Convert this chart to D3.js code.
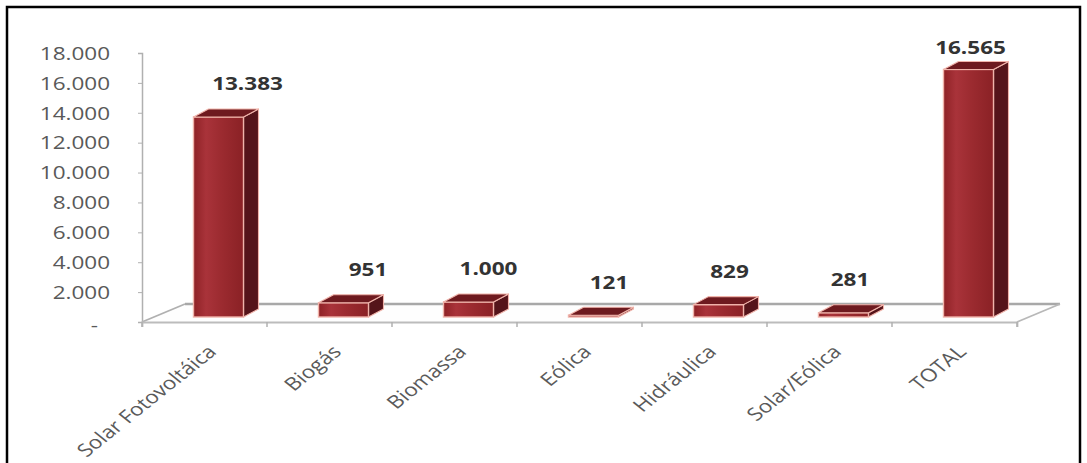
<!DOCTYPE html>
<html>
<head>
<meta charset="utf-8">
<script src="https://cdn.jsdelivr.net/npm/d3@7"></script>
<style>
  html, body { margin: 0; padding: 0; background: #fff; }
  svg { display: block; }
</style>
</head>
<body>
<svg id="chart" width="1087" height="463"></svg>
<script>
// ---- data ----
const categories = ["Solar Fotovoltáica", "Biogás", "Biomassa", "Eólica", "Hidráulica", "Solar/Eólica", "TOTAL"];
const values = [13383, 951, 1000, 121, 829, 281, 16565];
const valueLabels = ["13.383", "951", "1.000", "121", "829", "281", "16.565"];
const yTicks = [0, 2000, 4000, 6000, 8000, 10000, 12000, 14000, 16000, 18000];
const yTickLabels = ["-", "2.000", "4.000", "6.000", "8.000", "10.000", "12.000", "14.000", "16.000", "18.000"];

// ---- layout ----
const svg = d3.select("#chart");
const stretch = 1.25; // the picture is horizontally stretched

// frame
svg.append("rect").attr("x", 7).attr("y", 7).attr("width", 1073).attr("height", 470)
  .attr("fill", "none").attr("stroke", "#000").attr("stroke-width", 2.5);

const x = d3.scaleBand().domain(categories).range([142, 1017]).paddingInner(0).paddingOuter(0);
const y = d3.scaleLinear().domain([0, 18000]).range([322, 53]);

const floorDX = 43, floorDY = -18;   // depth of floor
const barDX = 15, barDY = -8;        // depth of bars
const barW = 50;
const barOffX = floorDX / 2 - barDX / 2;  // bar front placed at mid-depth
const barOffY = floorDY / 2 - barDY / 2;

const defs = svg.append("defs");
const grad = defs.append("linearGradient").attr("id", "front").attr("x1", "0").attr("x2", "1").attr("y1", "0").attr("y2", "0");
[["0%", "#8e2226"], ["25%", "#a9333a"], ["55%", "#9c2b30"], ["100%", "#8a2125"]].forEach(s =>
  grad.append("stop").attr("offset", s[0]).attr("stop-color", s[1]));

// floor
const x0 = x.range()[0], x1 = x.range()[1], y0 = y(0);
const floor = svg.append("g");
floor.append("path")
  .attr("d", `M${x0},${y0} L${x1},${y0} L${x1 + floorDX},${y0 + floorDY} L${x0 + floorDX},${y0 + floorDY} Z`)
  .attr("fill", "#fefefe").attr("stroke", "none");
floor.append("line").attr("x1", x0 + floorDX).attr("y1", y0 + floorDY).attr("x2", x1 + floorDX).attr("y2", y0 + floorDY)
  .attr("stroke", "#a8a8a8").attr("stroke-width", 2.5);
floor.append("line").attr("x1", x0).attr("y1", y0).attr("x2", x0 + floorDX).attr("y2", y0 + floorDY)
  .attr("stroke", "#b0b0b0").attr("stroke-width", 1.8);
floor.append("line").attr("x1", x1).attr("y1", y0).attr("x2", x1 + floorDX).attr("y2", y0 + floorDY)
  .attr("stroke", "#b8b8b8").attr("stroke-width", 1.8);

// y axis
const yAxis = d3.axisLeft(y).tickValues(yTicks).tickSize(4).tickPadding(28)
  .tickFormat((d, i) => yTickLabels[i]);
const gy = svg.append("g").attr("transform", `translate(${x0},0)`).call(yAxis);
gy.select(".domain").attr("stroke", "#b0b0b0").attr("stroke-width", 1.5);
gy.selectAll(".tick line").attr("stroke", "#b0b0b0");
gy.selectAll(".tick text").each(function(d) {
  const t = d3.select(this);
  const tx = d === 0 ? -44 : -32;
  t.attr("x", null).attr("dy", null)
    .attr("transform", `translate(${tx},${d === 0 ? 3 : 0}) scale(${stretch},1)`)
    .attr("dy", "0.35em")
    .attr("font-family", "'Open Sans', sans-serif").attr("font-size", 18)
    .attr("fill", "#595959").attr("text-anchor", "end");
});

// x axis (front floor edge)
const xAxis = d3.axisBottom(x).tickSize(5).tickFormat("");
const gx = svg.append("g").attr("transform", `translate(0,${y0})`).call(xAxis);
gx.select(".domain").attr("stroke", "#bcbcbc").attr("stroke-width", 1.8);
gx.selectAll(".tick").remove();
gx.selectAll(".bt").data(d3.range(categories.length + 1)).join("line")
  .attr("x1", i => x0 + i * x.bandwidth()).attr("x2", i => x0 + i * x.bandwidth())
  .attr("y1", 0).attr("y2", 5).attr("stroke", "#b0b0b0").attr("stroke-width", 1.5);

// category labels
svg.append("g").selectAll("text").data(categories).join("text")
  .attr("transform", d => `translate(${x(d) + x.bandwidth() / 2 + 2},${y0 + 22}) scale(${stretch},1) rotate(-45)`)
  .attr("dy", "0.7em")
  .attr("text-anchor", "end")
  .attr("font-family", "'Open Sans', sans-serif").attr("font-size", 18)
  .attr("fill", "#5a5a5a")
  .text(d => d);

// bars
const bars = svg.append("g").selectAll("g").data(categories).join("g");
bars.each(function(c, i) {
  const g = d3.select(this);
  const cx = x(c) + x.bandwidth() / 2 + barOffX;
  const bl = cx - barW / 2, br = cx + barW / 2;
  const yb = y(0) + barOffY, yt = y(values[i]) + barOffY;
  const stroke = "#f0b3aa";
  // side
  g.append("path")
    .attr("d", `M${br},${yt} L${br + barDX},${yt + barDY} L${br + barDX},${yb + barDY} L${br},${yb} Z`)
    .attr("fill", "#55141a").attr("stroke", stroke).attr("stroke-width", 1.1).attr("stroke-linejoin", "round");
  // front
  g.append("rect").attr("x", bl).attr("y", yt).attr("width", barW).attr("height", Math.max(0, yb - yt))
    .attr("fill", "url(#front)").attr("stroke", stroke).attr("stroke-width", 1.4);
  // top
  g.append("path")
    .attr("d", `M${bl},${yt} L${bl + barDX},${yt + barDY} L${br + barDX},${yt + barDY} L${br},${yt} Z`)
    .attr("fill", "#6e1a1f").attr("stroke", stroke).attr("stroke-width", 1.1).attr("stroke-linejoin", "round");
});

// value labels
svg.append("g").selectAll("text").data(categories).join("text")
  .attr("transform", (c, i) => {
    const cx = x(c) + x.bandwidth() / 2 + barOffX + 29 - 4.5 * i;
    const ty = Math.max(y(values[i]) + barOffY + barDY - 25, 48);
    return `translate(${cx},${ty}) scale(${stretch},1)`;
  })
  .attr("dy", "0.35em")
  .attr("text-anchor", "middle")
  .attr("font-family", "'Open Sans', sans-serif").attr("font-size", 18).attr("font-weight", "bold")
  .attr("fill", "#333")
  .text((c, i) => valueLabels[i]);
</script>
</body>
</html>
